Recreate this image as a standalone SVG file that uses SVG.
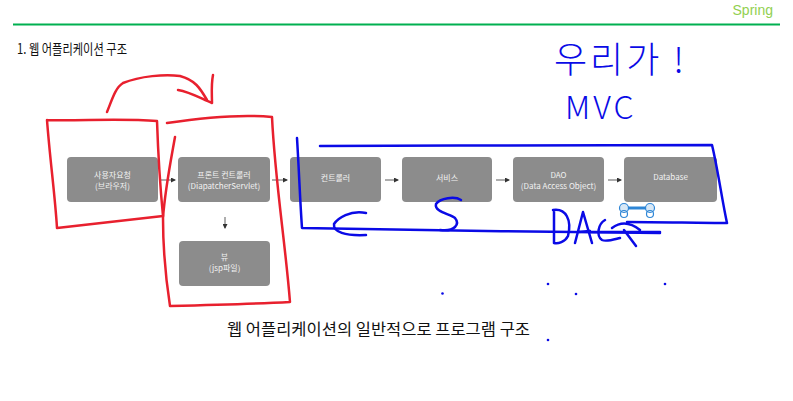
<svg xmlns="http://www.w3.org/2000/svg" width="793" height="401" viewBox="0 0 793 401">
<style>
.box{fill:#8c8c8c}
.bt{font-family:"Noto Sans CJK KR","Liberation Sans",sans-serif;font-size:8px;fill:#f2f2f2;text-anchor:middle}
.con{stroke:#333;stroke-width:0.8;fill:none}
.red{stroke:#e8202e;stroke-width:2.5;fill:none;stroke-linecap:round;stroke-linejoin:round}
.blue{stroke:#0a0ae6;stroke-width:2.5;fill:none;stroke-linecap:round;stroke-linejoin:round}
.hw{font-family:"Noto Sans CJK KR","DejaVu Sans",sans-serif;fill:#0a0ae6;font-weight:300}
</style>
<defs>
<marker id="ah" markerWidth="5" markerHeight="5" refX="4" refY="2.5" orient="auto" markerUnits="userSpaceOnUse"><path d="M0,0 L5,2.5 L0,5 z" fill="#333"/></marker>
</defs>
<rect width="793" height="401" fill="#fff"/>
<text x="773" y="15" font-family="Liberation Sans,sans-serif" font-size="14" fill="#92d050" text-anchor="end">Spring</text>
<line x1="13" y1="24.5" x2="780" y2="24.5" stroke="#00b050" stroke-width="2"/>
<text x="17" y="54" font-family="'Noto Sans CJK KR',sans-serif" font-size="14" fill="#111" textLength="110" lengthAdjust="spacingAndGlyphs">1. 웹 어플리케이션 구조</text>

<g id="connectors">
<line class="con" x1="160" y1="180" x2="175" y2="180" marker-end="url(#ah)"/>
<line class="con" x1="272" y1="180" x2="287" y2="180" marker-end="url(#ah)"/>
<line class="con" x1="385" y1="180" x2="398" y2="180" marker-end="url(#ah)"/>
<line class="con" x1="496" y1="180" x2="509" y2="180" marker-end="url(#ah)"/>
<line class="con" x1="608" y1="180" x2="621" y2="180" marker-end="url(#ah)"/>
<line class="con" x1="225" y1="217" x2="225" y2="228" marker-end="url(#ah)"/>
</g>

<g id="n-user"><rect class="box" x="67" y="157" width="91" height="45" rx="4"/>
<text class="bt" x="112.5" y="178">사용자요청</text><text class="bt" x="112.5" y="189">(브라우저)</text></g>
<g id="n-front"><rect class="box" x="178" y="157" width="92" height="45" rx="4"/>
<text class="bt" x="224" y="178">프론트 컨트롤러</text><text class="bt" x="224" y="189">(DiapatcherServlet)</text></g>
<g id="n-view"><rect class="box" x="179" y="241" width="91" height="45" rx="4"/>
<text class="bt" x="224.5" y="260">뷰</text><text class="bt" x="224.5" y="271">(jsp파일)</text></g>
<g id="n-ctrl"><rect class="box" x="290" y="157" width="91" height="45" rx="4"/>
<text class="bt" x="335.5" y="181">컨트롤러</text></g>
<g id="n-svc"><rect class="box" x="402" y="157" width="90" height="45" rx="4"/>
<text class="bt" x="447" y="181">서비스</text></g>
<g id="n-dao"><rect class="box" x="513" y="157" width="91" height="45" rx="4"/>
<text class="bt" x="558.5" y="178">DAO</text><text class="bt" x="558.5" y="189">(Data Access Object)</text></g>
<g id="n-db"><rect class="box" x="624" y="157" width="93" height="45" rx="4"/>
<text class="bt" x="670.5" y="180">Database</text></g>

<text x="227" y="335" font-family="'Noto Sans CJK KR',sans-serif" font-size="15.5" fill="#111" textLength="303" lengthAdjust="spacingAndGlyphs">웹 어플리케이션의 일반적으로 프로그램 구조</text>

<g id="red-ink">
<path class="red" d="M47,120 C80,121 120,118 157,121 C158,150 160,185 163,216 C130,220 90,224 57,228 C55,195 50,160 47,120"/>
<path class="red" d="M175,137 C170,165 165,190 163,218 C163,250 166,280 170,306 C210,305 250,304 290,302 C285,240 275,180 272,117 C240,114 200,118 167,123"/>
<path class="red" d="M107,112 C112,100 115,88 123,83 C140,76 165,74 180,76 C195,80 200,88 207,100"/>
<path class="red" d="M178,90 C190,92 200,98 212,103 C212,95 211,85 213,75"/>
</g>

<g id="blue-ink">
<path class="blue" d="M297,138 C299,170 300,200 302,228 C400,230 550,232 660,233"/>
<path class="blue" d="M320,146 C450,145 600,146 712,145 C718,170 722,200 727,223 C700,223 660,222 627,222"/>
<path class="blue" d="M366,213 C350,210 338,218 334,224 C333,232 345,236 366,235"/>
<path class="blue" d="M461,200 C455,196 440,198 436,204 C434,212 450,214 455,218 C460,224 455,232 440,230"/>
<path class="blue" d="M554,210 L554,243 M553,210 C566,208 572,220 568,236 C565,242 558,244 554,243 M575,243 L583,212 L592,243 M578,232 L590,231 M605,220 C598,224 596,236 602,240 C606,242 612,240 620,238 M612,228 C620,222 630,222 640,230 M624,230 L636,246 M590,232 L660,232"/>
<text class="hw" x="554" y="73" font-size="36" letter-spacing="3">우리가 !</text>
<text class="hw" x="565" y="119" font-size="32" letter-spacing="3">MVC</text>
<circle cx="442.5" cy="293.5" r="1.3" fill="#0a0ae6"/>
<circle cx="548" cy="284" r="1.3" fill="#0a0ae6"/>
<circle cx="576" cy="294" r="1.3" fill="#0a0ae6"/>
<circle cx="665" cy="284" r="1.3" fill="#0a0ae6"/>
<circle cx="548" cy="340" r="1.3" fill="#0a0ae6"/>
</g>
<g id="handles" stroke="#2e86d6" stroke-width="1.2" fill="#d8e8f6">
<line x1="624" y1="208" x2="650" y2="208" stroke-width="3"/>
<circle cx="624" cy="208" r="4.5"/><circle cx="650" cy="208" r="4.5"/>
<circle cx="624" cy="214" r="3.5" fill="none"/><circle cx="650" cy="214" r="3.5" fill="none"/>
</g>
</svg>
